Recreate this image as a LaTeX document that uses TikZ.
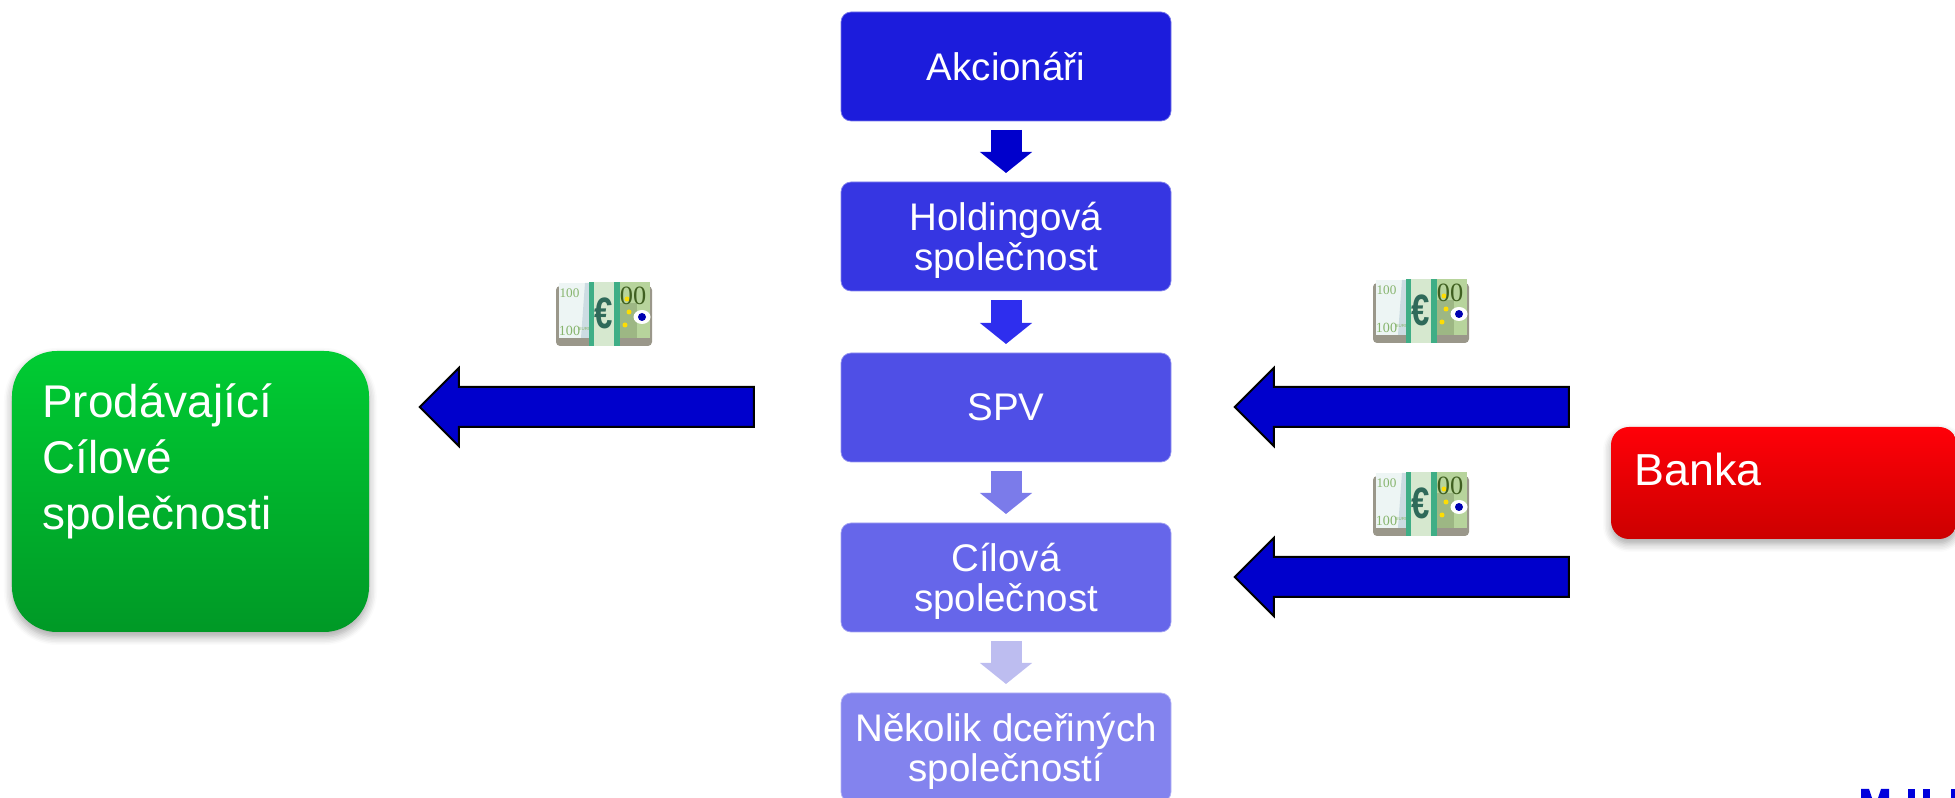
\documentclass[tikz,border=0pt]{standalone}
\usepackage{fontspec}
\usepackage{xcolor}
\setmainfont{Liberation Sans}
\newfontfamily\noteserif{Liberation Serif}
\usetikzlibrary{shapes,arrows,shadows,shadows.blur,arrows.meta}

\definecolor{boxa}{HTML}{1C1CDC}
\definecolor{boxb}{HTML}{3636E2}
\definecolor{boxc}{HTML}{4F4FE6}
\definecolor{boxd}{HTML}{6666EA}
\definecolor{boxe}{HTML}{8383EE}
\definecolor{flowa}{HTML}{0000CC}
\definecolor{flowb}{HTML}{2E2EEE}
\definecolor{flowc}{HTML}{7B7BEA}
\definecolor{flowd}{HTML}{BDBDF0}
\definecolor{greentop}{HTML}{00CC33}
\definecolor{greenbot}{HTML}{009926}
\definecolor{redtop}{HTML}{FF0008}
\definecolor{redbot}{HTML}{CC0000}
\definecolor{noteband}{HTML}{3FAE86}
\definecolor{notepale}{HTML}{D6E8CF}
\definecolor{notegreen}{HTML}{B7D49C}
\definecolor{notedark}{HTML}{3F5F20}
\definecolor{notetext}{HTML}{86B46C}
\definecolor{notesign}{HTML}{2F6A5A}
\definecolor{notebase}{HTML}{9A978A}
\definecolor{notewhite}{HTML}{EDF5F4}
\definecolor{noteblue}{HTML}{CCDCE2}
\definecolor{notepillar}{HTML}{9DB784}
\definecolor{logoblue}{HTML}{0000DC}

\newcommand{\firstline}{\rule{0pt}{20pt}}

\tikzset{
    stepbox/.style={rectangle, rounded corners=0.2cm, minimum width=6.6cm, minimum height=2.18cm,
        outer sep=0pt, inner sep=0pt, align=center, text=white, font=\fontsize{21.9}{22.8}\selectfont},
    flow/.style={line width=0.62cm, shorten <=0.18cm, shorten >=0.18cm,
        -{Triangle[length=0.42cm,width=1.02cm]}},
    cashflow/.style={single arrow, draw=black, line width=0.04cm, fill=flowa, shape border rotate=180,
        minimum height=6.68cm, minimum width=1.52cm, single arrow head extend=0.38cm,
        single arrow tip angle=90, inner xsep=0pt, inner ysep=0.38cm, outer sep=0pt},
    partybox/.style={rectangle, outer sep=0pt,
        blur shadow={shadow xshift=0cm, shadow yshift=-0.1cm, shadow blur steps=6, shadow blur radius=0.16cm, shadow opacity=35}},
    partytext/.style={anchor=north west, inner sep=0pt, align=left, text=white},
    euronote/.pic={
        \fill [rounded corners=0.08cm, notebase] (0,0) rectangle (1.92,1.2);
        \fill [notewhite] (0.06,0.16) rectangle (0.7,1.26);
        \fill [noteblue] (0.5,0.16) -- (0.7,0.16) -- (0.7,1.26) -- (0.58,1.26) -- cycle;
        \fill [notegreen] (1.2,0.16) rectangle (1.87,1.28);
        \fill [notepillar] (1.26,0.16) rectangle (1.62,0.85);
        \fill [white] (1.72,0.58) ellipse (0.17cm and 0.14cm);
        \fill [blue!70!black] (1.72,0.58) circle (0.08cm);
        \fill [yellow!80!orange] (1.42,0.94) circle (0.05cm) (1.46,0.68) circle (0.05cm) (1.38,0.42) circle (0.05cm);
        \node (-hundred) [inner sep=0pt, text=notetext, font=\noteserif\fontsize{7.5}{7.5}\selectfont] at (0.27,1.05) {100};
        \node (-hundredb) [inner sep=0pt, text=notetext, font=\noteserif\fontsize{8}{8}\selectfont] at (0.27,0.3) {100};
        \node (-euroword) [inner sep=0pt, text=notetext, font=\fontsize{2.5}{2.5}\selectfont] at (0.58,0.34) {EURO};
        \node (-zeros) [inner sep=0pt, text=notedark, font=\noteserif\fontsize{15}{15}\selectfont] at (1.54,1.0) {00};
        \fill [noteband] (0.65,0) rectangle (1.27,1.28);
        \fill [notepale] (0.76,0) rectangle (1.16,1.28);
        \node (-euro) [inner sep=0pt, xscale=0.75, text=notesign, font=\bfseries\fontsize{25}{25}\selectfont] at (0.96,0.66) {€};
    }
}

\begin{document}
\begin{tikzpicture}
    \clip (0,0) rectangle (39.1,15.96);

    \node [stepbox, fill=boxa, draw=boxa!60!white] (akcionari) at (20.12,14.63) {Akcionáři};
    \node [stepbox, fill=boxb, draw=boxb!60!white] (holding) at (20.12,11.23) {\firstline Holdingová\\společnost};
    \node [stepbox, fill=boxc, draw=boxc!60!white] (spv) at (20.12,7.81) {SPV};
    \node [stepbox, fill=boxd, draw=boxd!60!white] (cilova) at (20.12,4.41) {\firstline Cílová\\společnost};
    \node [stepbox, fill=boxe, draw=boxe!60!white] (dcerine) at (20.12,1.01) {\firstline Několik dceřiných\\společností};

    \draw [flow, flowa] (akcionari) -- (holding);
    \draw [flow, flowb] (holding) -- (spv);
    \draw [flow, flowc] (spv) -- (cilova);
    \draw [flow, flowd] (cilova) -- (dcerine);

    \node [partybox, top color=greentop, bottom color=greenbot, rounded corners=0.9cm,
        minimum width=7.14cm, minimum height=5.62cm] (prodavajici) at (3.81,6.13) {};
    \node [partytext, font=\fontsize{26.1}{32}\selectfont] (prodavajicitext) at (0.84,8.3) {Prodávající\\Cílové\\společnosti};

    \node [partybox, top color=redtop, bottom color=redbot, rounded corners=0.36cm,
        minimum width=6.92cm, minimum height=2.24cm] (banka) at (35.68,6.3) {};
    \node [partytext, font=\fontsize{25.5}{30}\selectfont] (bankatext) at (32.68,6.9) {Banka};

    \node [cashflow] (paymentseller) at (11.935,7.82) {};
    \node [cashflow] (loanspv) at (28.235,7.82) {};
    \node [cashflow] (loantarget) at (28.235,4.42) {};

    \pic (noteseller) at (11.12,9.04) {euronote};
    \pic (notespv) at (27.46,9.1) {euronote};
    \pic (notetarget) at (27.46,5.24) {euronote};

    \fill [logoblue] (37.22,0) -- (37.22,0.18) -- (37.38,0.18) -- (37.44,0) -- cycle;
    \fill [logoblue] (37.56,0) -- (37.62,0.18) -- (37.78,0.18) -- (37.78,0) -- cycle;
    \fill [logoblue] (38.16,0) rectangle (38.3,0.18);
    \fill [logoblue] (38.46,0) rectangle (38.6,0.18);
    \fill [logoblue] (39.02,0) rectangle (39.1,0.18);
\end{tikzpicture}
\end{document}
